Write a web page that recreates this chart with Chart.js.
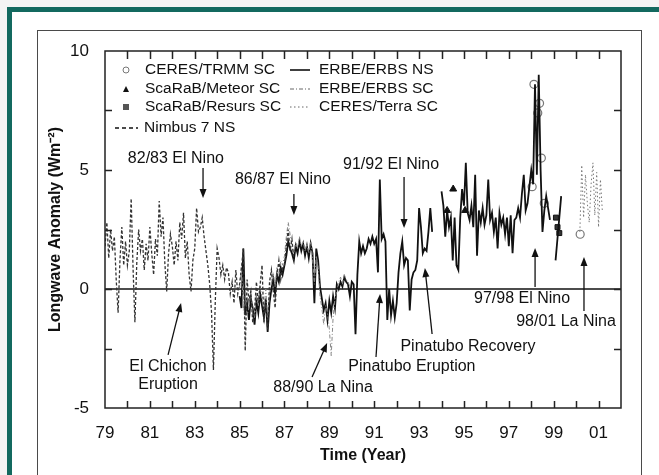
<!DOCTYPE html>
<html lang="en">
<head>
<meta charset="UTF-8">
<title>Longwave Anomaly</title>
<style>
    html, body { margin: 0; padding: 0; background: #f4f4f4; overflow: hidden; }
    #frame {
        position: absolute; left: 7px; top: 7px; width: 652px; height: 468px;
        background: #fff; border-left: 5px solid #13695f; border-top: 5px solid #13695f;
        box-sizing: border-box;
    }
    #panel {
        position: absolute; left: 37px; top: 30px; width: 605px; height: 460px;
        border: 1px solid #4a4a4a; box-sizing: border-box; background: #fff;
    }
    #chart { position: absolute; left: 0; top: 0; }
</style>
</head>
<body>
<div id="frame"></div>
<div id="panel"></div>
<canvas id="chart" width="659" height="475"></canvas>

<script src="https://cdn.jsdelivr.net/npm/chart.js@4.4.0/dist/chart.umd.min.js"></script>
<script>
    // Monthly anomalies (W m-2)
    const nimbusStart = 1979;
    const nimbusNS = [
        1.8, 2.8, 1.3, 2.5, 1.6, 2.2, 0.4, -1.0, 1.2, 2.6, 1.0, 2.0,
        1.0, 1.6, 3.8, 0.9, -1.4, 1.1, 2.5, 1.6, 2.1, 0.8, 1.9, 1.2,
        2.6, 1.5, 0.6, 2.1, 1.4, 3.7, 2.2, 3.0, 1.1, -0.1, 1.5, 2.3,
        1.8, 1.0, 2.0, 1.2, 2.8, 2.1, 3.2, 1.3, 2.0, 0.6, -0.1, 1.2,
        1.7, 3.4, 2.4, 2.6, 3.0, 2.2, 1.6, 1.0, 0.2, -1.0, -3.4, -0.5,
        1.7, 1.3, 0.6, 1.0, 0.4, 0.9, 0.7, -0.2, 0.3, -0.6, 0.8, -0.2,
        0.2, 0.9, 1.7, -2.6, 0.4, -0.5, -0.1, -1.4, -0.9, 0.3, -0.6, 0.2,
        1.0, -1.4, -0.5, -1.7, 0.3, 0.8, -0.1, -0.8, 0.6, 1.2, 0.4, 0.9,
        1.0, 1.8, 2.5, 1.6, 2.1, 1.2
    ];

    const erbeStart = 1985;
    const erbeNS = [
        -0.3, -0.8, 1.7, -1.1, -0.6, -1.3, -0.4, -0.8, -1.5, -0.5, -1.0, -0.2,
        -0.7, -1.2, -0.4, -1.8, -0.6, 0.0, 0.4, -0.2, 0.6, 0.3, 0.9, 0.6,
        1.0, 1.4, 2.0, 1.7, 1.5, 1.2, 1.8, 1.5, 2.0, 1.6, 1.9, 1.4,
        1.8, 1.3, 1.9, 1.5, -0.6, 1.7, 1.2, 0.1, -0.4, -0.9, -0.6, -1.3,
        -0.5, -1.0, -0.3, -0.8, 0.2, 0.0, 0.3, 0.1, 0.5, 0.3, 0.2, -0.3,
        0.3, 0.2, -1.9, 0.6, 2.0, 1.5, 1.8, 1.5, 1.7, 2.1, 1.9, 2.2,
        1.9, 2.1, 0.7, 4.6, 2.1, 2.3, 2.0, -1.3, 0.0, -1.1, -0.5, -1.2,
        -0.6, 0.7, 1.5, 2.0, 1.0, 1.3, 1.2, -0.9, 0.4, 0.7, 0.8, 1.2,
        3.4, 2.6, 1.5, 1.7, 1.6, 2.4, 3.4, 2.4, null, null, null, null,
        4.1, 3.5, 2.2, 3.3, 2.6, 3.0, 1.2, 3.0, 1.0, 0.8, 3.0, 4.2,
        3.5, 5.3, 3.2, 2.9, 3.5, 2.6, 4.8, 1.4, 3.3, 2.8, 3.4, 2.7,
        3.1, 4.6, 2.9, 3.2, 2.4, 3.0, 1.7, 3.2, 2.7, 3.0, 2.3, 3.0,
        1.8, 3.1, 1.5, 2.9, 3.0, 3.4, 3.0, 4.0, 4.8, 3.3, 3.6, 4.3,
        5.0, 4.4, 8.6, 4.8, 9.0, 5.0, 2.4, 3.3, 3.9, 3.4, 2.9, null,
        null, 1.2, 2.1, 3.0, 3.9
    ];
    const erbeSC = [
        0.0, 1.0, -0.9, -0.3, -1.1, -0.8, -0.1, -1.0, -1.2, -0.2, -0.7, 0.1,
        -0.4, -0.9, 0.0, -1.2, -0.2, 0.3, 0.7, 0.1, 0.9, 0.6, 1.2, 1.0,
        1.4, 2.2, 2.8, 2.3, 1.8, 1.5, 2.0, 1.7, 2.2, 1.8, 2.0, 1.6,
        1.9, 1.5, 2.0, 1.3, 0.2, 1.4, 0.9, -0.3, -0.8, -1.5, -0.7, -1.0,
        -1.7, -2.8, -1.2, -0.4, -0.1, 0.3, 0.5, 0.2, 0.6, 0.4, 0.3, 0.1
    ];

    const terraStart = 2000 + 2 / 12;
    const terraSC = [2.4, 5.2, 3.0, 4.8, 3.6, 2.8, 4.4, 5.3, 3.1, 4.9, 2.6, 4.6, 3.3];

    const trmmYears = [1998.04, 1998.12, 1998.29, 1998.37, 1998.45, 1998.58, 2000.18];
    const trmmSC = [4.3, 8.6, 7.4, 7.8, 5.5, 3.6, 2.3];

    const meteorYears = [1994.25, 1994.52, 1995.05];
    const meteorSC = [3.3, 4.2, 3.3];

    const resursYears = [1999.1, 1999.17, 1999.25];
    const resursSC = [3.0, 2.6, 2.35];

    const xTickYears = [1979, 1981, 1983, 1985, 1987, 1989, 1991, 1993, 1995, 1997, 1999, 2001];
    const yTickValues = [-5, 0, 5, 10];
    const yearMarks = [1980, 1981, 1982, 1983, 1984, 1985, 1986, 1987, 1988, 1989, 1990,
        1991, 1992, 1993, 1994, 1995, 1996, 1997, 1998, 1999, 2000, 2001];
    const valueMarks = [-2.5, 0, 2.5, 5, 7.5];

    // event labels: text position and arrow (tail -> head), in year / anomaly units
    const events = [
        { text: ["82/83 El Nino"], at: [1982.16, 5.46], arrow: [[1983.37, 5.08], [1983.37, 3.82]] },
        { text: ["86/87 El Nino"], at: [1986.93, 4.58], arrow: [[1987.42, 3.99], [1987.42, 3.11]] },
        { text: ["91/92 El Nino"], at: [1991.75, 5.21], arrow: [[1992.33, 4.71], [1992.33, 2.56]] },
        { text: ["El Chichon", "Eruption"], at: [1981.81, -3.24], arrow: [[1981.81, -2.77], [1982.39, -0.59]] },
        { text: ["88/90 La Nina"], at: [1988.72, -4.16], arrow: [[1988.23, -3.70], [1988.9, -2.27]] },
        { text: ["Pinatubo Eruption"], at: [1992.68, -3.28], arrow: [[1991.08, -2.86], [1991.26, -0.21]] },
        { text: ["Pinatubo Recovery"], at: [1995.18, -2.44], arrow: [[1993.58, -1.89], [1993.26, 0.88]] },
        { text: ["97/98 El Nino"], at: [1997.59, -0.42], arrow: [[1998.17, 0.08], [1998.17, 1.72]] },
        { text: ["98/01 La Nina"], at: [1999.55, -1.39], arrow: [[2000.35, -0.92], [2000.35, 1.34]] }
    ];

    const FONT = "'Liberation Sans', Arial, sans-serif";

    function monthly(start, vals) {
        return vals.map((v, i) => ({ x: start + i / 12, y: v }));
    }
    function paired(xs, ys) {
        return xs.map((x, i) => ({ x: x, y: ys[i] }));
    }

    function drawArrow(ctx, x1, y1, x2, y2) {
        const a = Math.atan2(y2 - y1, x2 - x1);
        const len = 9, half = 3.5;
        ctx.beginPath();
        ctx.moveTo(x1, y1);
        ctx.lineTo(x2 - Math.cos(a) * len * 0.6, y2 - Math.sin(a) * len * 0.6);
        ctx.stroke();
        ctx.beginPath();
        ctx.moveTo(x2, y2);
        ctx.lineTo(x2 - len * Math.cos(a) + half * Math.sin(a), y2 - len * Math.sin(a) - half * Math.cos(a));
        ctx.lineTo(x2 - len * Math.cos(a) - half * Math.sin(a), y2 - len * Math.sin(a) + half * Math.cos(a));
        ctx.closePath();
        ctx.fill();
    }

    // zero line, inward ticks, legend and event labels
    const decorations = {
        id: "decorations",
        beforeDatasetsDraw(chart) {
            const { ctx, chartArea: a, scales: { y } } = chart;
            const y0 = y.getPixelForValue(0);
            ctx.save();
            ctx.strokeStyle = "#111";
            ctx.lineWidth = 1.6;
            ctx.beginPath();
            ctx.moveTo(a.left, y0);
            ctx.lineTo(a.right, y0);
            ctx.stroke();
            ctx.restore();
        },
        afterDatasetsDraw(chart) {
            const { ctx, chartArea: a, scales: { x, y } } = chart;
            ctx.save();
            ctx.strokeStyle = "#222";
            ctx.lineWidth = 1.5;
            ctx.strokeRect(a.left, a.top, a.right - a.left, a.bottom - a.top);
            ctx.beginPath();
            yearMarks.forEach(yr => {
                const px = Math.round(x.getPixelForValue(yr)) + 0.5;
                ctx.moveTo(px, a.bottom); ctx.lineTo(px, a.bottom - 7);
                ctx.moveTo(px, a.top); ctx.lineTo(px, a.top + 8);
            });
            valueMarks.forEach(v => {
                const py = Math.round(y.getPixelForValue(v)) + 0.5;
                ctx.moveTo(a.left, py); ctx.lineTo(a.left + 7, py);
                ctx.moveTo(a.right, py); ctx.lineTo(a.right - 7, py);
            });
            ctx.stroke();
            ctx.restore();
        },
        afterDraw(chart) {
            const { ctx, chartArea: a, scales: { x, y } } = chart;
            ctx.save();
            ctx.fillStyle = "#111";
            ctx.strokeStyle = "#111";
            ctx.lineWidth = 1.3;

            // legend
            const L = a.left, T = a.top;
            ctx.font = "15.5px " + FONT;
            ctx.textBaseline = "middle";
            ctx.textAlign = "left";
            const rows = [T + 19, T + 38, T + 56, T + 77];
            const col1 = [
                ["CERES/TRMM SC", "circle"],
                ["ScaRaB/Meteor SC", "triangle"],
                ["ScaRaB/Resurs SC", "square"]
            ];
            col1.forEach((item, i) => {
                const cx = L + 21, cy = rows[i];
                if (item[1] === "circle") {
                    ctx.save();
                    ctx.strokeStyle = "#777"; ctx.lineWidth = 1;
                    ctx.beginPath(); ctx.arc(cx, cy, 3, 0, Math.PI * 2); ctx.stroke();
                    ctx.restore();
                } else if (item[1] === "triangle") {
                    ctx.beginPath();
                    ctx.moveTo(cx, cy - 3); ctx.lineTo(cx + 3, cy + 3); ctx.lineTo(cx - 3, cy + 3);
                    ctx.closePath(); ctx.fill();
                } else {
                    ctx.save();
                    ctx.fillStyle = "#555";
                    ctx.fillRect(cx - 3, cy - 3, 6, 6);
                    ctx.restore();
                }
                ctx.fillText(item[0], L + 40, cy);
            });
            const col2 = [
                ["ERBE/ERBS NS", [], "#111", 1.6],
                ["ERBE/ERBS SC", [4, 2, 1, 2], "#666", 1],
                ["CERES/Terra SC", [1.5, 2.5], "#666", 1]
            ];
            col2.forEach((item, i) => {
                const cy = rows[i];
                ctx.save();
                ctx.strokeStyle = item[2]; ctx.lineWidth = item[3];
                ctx.setLineDash(item[1]);
                ctx.beginPath(); ctx.moveTo(L + 185, cy); ctx.lineTo(L + 205, cy); ctx.stroke();
                ctx.restore();
                ctx.fillText(item[0], L + 214, cy);
            });
            ctx.save();
            ctx.setLineDash([4, 3]);
            ctx.lineWidth = 1.4;
            ctx.beginPath(); ctx.moveTo(L + 10, rows[3]); ctx.lineTo(L + 33, rows[3]); ctx.stroke();
            ctx.restore();
            ctx.fillText("Nimbus 7 NS", L + 39, rows[3]);

            // event labels
            ctx.font = "16px " + FONT;
            ctx.textAlign = "center";
            events.forEach(ev => {
                const tx = x.getPixelForValue(ev.at[0]);
                const ty = y.getPixelForValue(ev.at[1]);
                ev.text.forEach((line, k) => ctx.fillText(line, tx, ty + k * 18));
                const p1 = ev.arrow[0], p2 = ev.arrow[1];
                drawArrow(ctx, x.getPixelForValue(p1[0]), y.getPixelForValue(p1[1]),
                    x.getPixelForValue(p2[0]), y.getPixelForValue(p2[1]));
            });
            ctx.restore();
        }
    };

    const ctx = document.getElementById("chart").getContext("2d");
    const chart = new Chart(ctx, {
        type: "line",
        data: {
            datasets: [
                {
                    label: "Nimbus 7 NS",
                    data: monthly(nimbusStart, nimbusNS),
                    borderColor: "#333", borderWidth: 1.3, borderDash: [3, 2],
                    pointRadius: 0
                },
                {
                    label: "ERBE/ERBS SC",
                    data: monthly(erbeStart, erbeSC),
                    borderColor: "#888", borderWidth: 1, borderDash: [4, 2, 1, 2],
                    pointRadius: 0
                },
                {
                    label: "ERBE/ERBS NS",
                    data: monthly(erbeStart, erbeNS),
                    borderColor: "#111", borderWidth: 1.8,
                    pointRadius: 0, spanGaps: false
                },
                {
                    label: "CERES/Terra SC",
                    data: monthly(terraStart, terraSC),
                    borderColor: "#777", borderWidth: 1, borderDash: [1.5, 2.5],
                    pointRadius: 0
                },
                {
                    label: "CERES/TRMM SC",
                    data: paired(trmmYears, trmmSC),
                    showLine: false, pointStyle: "circle", pointRadius: 4,
                    pointBackgroundColor: "rgba(255,255,255,0.85)", pointBorderColor: "#777", pointBorderWidth: 1.2
                },
                {
                    label: "ScaRaB/Meteor SC",
                    data: paired(meteorYears, meteorSC),
                    showLine: false, pointStyle: "triangle", pointRadius: 4,
                    pointBackgroundColor: "#111", pointBorderColor: "#111"
                },
                {
                    label: "ScaRaB/Resurs SC",
                    data: paired(resursYears, resursSC),
                    showLine: false, pointStyle: "rect", pointRadius: 3.5,
                    pointBackgroundColor: "#333", pointBorderColor: "#111"
                }
            ]
        },
        options: {
            responsive: false,
            animation: false,
            devicePixelRatio: 1,
            layout: { padding: { left: 38, top: 51, right: 38, bottom: 0 } },
            plugins: { legend: { display: false }, tooltip: { enabled: false } },
            elements: { line: { tension: 0 } },
            scales: {
                x: {
                    type: "linear", min: 1979, max: 2002,
                    grid: { display: false }, border: { display: false },
                    afterBuildTicks: s => { s.ticks = xTickYears.map(v => ({ value: v })); },
                    afterFit: s => { s.height = 67; },
                    ticks: {
                        color: "#111", padding: 7, maxRotation: 0, autoSkip: false,
                        font: { family: FONT, size: 17 },
                        callback: v => String(v % 100).padStart(2, "0")
                    },
                    title: {
                        display: true, text: "Time (Year)", color: "#111",
                        font: { family: FONT, size: 16, weight: "bold" },
                        padding: { top: 0, bottom: 10 }
                    }
                },
                y: {
                    min: -5, max: 10,
                    grid: { display: false }, border: { display: false },
                    afterBuildTicks: s => { s.ticks = yTickValues.map(v => ({ value: v })); },
                    afterFit: s => { s.width = 67; },
                    ticks: {
                        color: "#111", padding: 8,
                        font: { family: FONT, size: 17 }
                    },
                    title: {
                        display: true, text: "Longwave Anomaly (Wm\u207B\u00B2)", color: "#111",
                        font: { family: FONT, size: 16, weight: "bold" },
                        padding: { top: 8, bottom: 0 }
                    }
                }
            }
        },
        plugins: [decorations]
    });
</script>
</body>
</html>
